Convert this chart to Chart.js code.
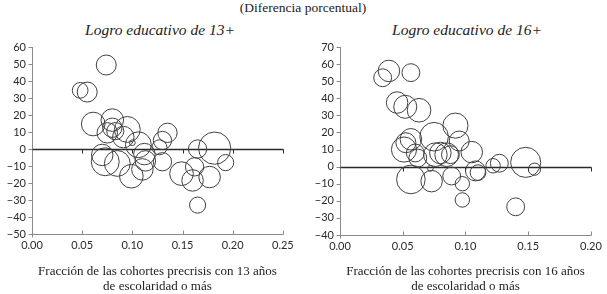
<!DOCTYPE html>
<html>
<head>
<meta charset="utf-8">
<script src="https://cdn.jsdelivr.net/npm/chart.js@4"></script>
<style>
  html, body { margin: 0; padding: 0; background: #fff; }
  body { width: 607px; height: 294px; position: relative; overflow: hidden; }
  .box { position: absolute; top: 0; height: 294px; }
  .t { position: absolute; white-space: nowrap; color: #222; transform: translateX(-50%); }
  .main { font: 13.5px "Liberation Serif", serif; top: 0px; left: 303px; }
  .sub { font: italic 15.5px "Liberation Serif", serif; top: 21px; }
</style>
</head>
<body>
<div class="t main">(Diferencia porcentual)</div>
<div class="t sub" style="left:160px">Logro educativo de 13+</div>
<div class="t sub" style="left:467px">Logro educativo de 16+</div>
<div class="box" style="left:0;width:300px"><canvas id="c1"></canvas></div>
<div class="box" style="left:300px;width:307px"><canvas id="c2"></canvas></div>
<script>
// ---- Panel 1: Logro educativo de 13+ ----
const x13 = [0.074,0.048,0.055,0.061,0.080,0.080,0.075,0.083,0.095,0.091,0.100,0.106,0.112,0.113,0.110,0.099,0.085,0.073,0.070,0.127,0.130,0.135,0.130,0.149,0.165,0.162,0.160,0.177,0.182,0.193,0.165];
const y13 = [49.4,34.5,33.5,14.7,17,12.5,9.5,10.5,11.5,7,3.7,2.5,-3,-7,-12,-16,-8.5,-7.5,-3.5,1,5,9.5,-7.5,-14.5,0,-10.5,-18.5,-16.5,0.5,-8,-33];
const s13 = [93,73,93,110,105,90,95,80,120,100,27,120,100,95,100,110,120,130,100,70,85,90,85,110,85,85,100,100,150,75,75];
const xTicks13 = [0,0.05,0.10,0.15,0.20,0.25];
const yTicks13 = [-50,-40,-30,-20,-10,0,10,20,30,40,50,60];

// ---- Panel 2: Logro educativo de 16+ ----
const x16 = [0.034,0.039,0.0565,0.0455,0.052,0.063,0.092,0.095,0.075,0.0565,0.0525,0.051,0.060,0.062,0.076,0.080,0.085,0.088,0.105,0.072,0.0565,0.073,0.089,0.0975,0.0975,0.108,0.110,0.122,0.127,0.148,0.155,0.140];
const y16 = [52,56,55,37.5,35,33,24,15,17.5,16,14,10,8,5,7,8,7,7,8.5,-1,-7.5,-8.5,-5.5,-10,-19.5,-2.5,-3.5,0.5,2,2.5,-1.5,-23.5];
const s16 = [83,100,83,100,107,110,117,93,133,100,93,117,83,83,110,100,110,83,100,27,133,100,83,67,67,93,73,67,83,140,57,83];
const xTicks16 = [0,0.05,0.10,0.15,0.20];
const yTicks16 = [-40,-30,-20,-10,0,10,20,30,40,50,60,70];

const xTitle13 = ['Fracción de las cohortes precrisis con 13 años', 'de escolaridad o más'];
const xTitle16 = ['Fracción de las cohortes precrisis con 16 años', 'de escolaridad o más'];

const toPoints = (xs, ys, ss) => xs.map((v, i) => ({x: v, y: ys[i], s: ss[i]}));
const radiusOf = s => s / 9.3;

const axesPlugin = {
  id: 'customAxes',
  beforeDatasetsDraw(chart) {
    const {ctx, chartArea: a, scales: {x, y}} = chart;
    const line = (x1, y1, x2, y2) => { ctx.beginPath(); ctx.moveTo(x1, y1); ctx.lineTo(x2, y2); ctx.stroke(); };
    ctx.save();
    ctx.lineWidth = 1;
    ctx.strokeStyle = '#8a8a8a';
    const lx = Math.round(a.left) + 0.5;
    const by = Math.round(a.bottom) + 0.5;
    line(lx, a.top, lx, by + 3);
    y.ticks.forEach(t => { const py = Math.round(y.getPixelForValue(t.value)) + 0.5; line(lx - 4, py, lx, py); });
    line(lx, by, Math.round(a.right) + 0.5, by);
    x.ticks.forEach(t => { const px = Math.round(x.getPixelForValue(t.value)) + 0.5; line(px, by, px, by - 4); });
    ctx.strokeStyle = '#2a2a2a';
    ctx.lineWidth = 1.3;
    const zy = Math.round(y.getPixelForValue(0)) + 0.5;
    line(lx, zy, Math.round(a.right) + 0.5, zy);
    ctx.lineWidth = 1;
    x.ticks.forEach(t => { if (t.value === 0) return; const px = Math.round(x.getPixelForValue(t.value)) + 0.5; line(px, zy, px, zy + 4); });
    ctx.restore();
  }
};

function makeChart(id, pts, xTicks, yTicks, yWidth, padRight, xHeight, xTitle) {
  return new Chart(document.getElementById(id), {
    type: 'bubble',
    data: { datasets: [{
      data: pts,
      radius: ctx => radiusOf(ctx.raw ? ctx.raw.s : 0),
      borderColor: '#404040',
      borderWidth: 1,
      backgroundColor: 'rgba(0,0,0,0)'
    }]},
    options: {
      responsive: true,
      maintainAspectRatio: false,
      animation: false,
      events: [],
      layout: { padding: { top: 47, right: padRight, bottom: 0, left: 0 } },
      plugins: { legend: { display: false }, tooltip: { enabled: false } },
      scales: {
        x: {
          type: 'linear',
          min: xTicks[0], max: xTicks[xTicks.length - 1],
          afterBuildTicks: s => { s.ticks = xTicks.map(v => ({value: v})); },
          afterFit: s => { s.height = xHeight; },
          grid: { display: false, drawTicks: false },
          border: { display: false },
          ticks: {
            padding: 5, maxRotation: 0, color: '#2a2a2a',
            font: { family: 'Lato, "Open Sans", sans-serif', size: 11 },
            callback: v => Number(v).toFixed(2)
          },
          title: {
            display: true, text: xTitle, color: '#222',
            padding: { top: 0, bottom: 0 },
            font: { family: '"Liberation Serif", serif', size: 13, lineHeight: 1.15 }
          }
        },
        y: {
          type: 'linear',
          min: yTicks[0], max: yTicks[yTicks.length - 1],
          afterBuildTicks: s => { s.ticks = yTicks.map(v => ({value: v})); },
          afterFit: s => { s.width = yWidth; },
          grid: { display: false, drawTicks: false },
          border: { display: false },
          ticks: {
            padding: 6, color: '#2a2a2a',
            font: { family: 'Lato, "Open Sans", sans-serif', size: 11 },
            callback: v => v < 0 ? '\u2212' + Math.abs(v) : String(v)
          }
        }
      }
    },
    plugins: [axesPlugin]
  });
}

makeChart('c1', toPoints(x13, y13, s13), xTicks13, yTicks13, 32, 14, 60, xTitle13);
makeChart('c2', toPoints(x16, y16, s16), xTicks16, yTicks16, 40, 13, 59, xTitle16);
</script>
</body>
</html>
